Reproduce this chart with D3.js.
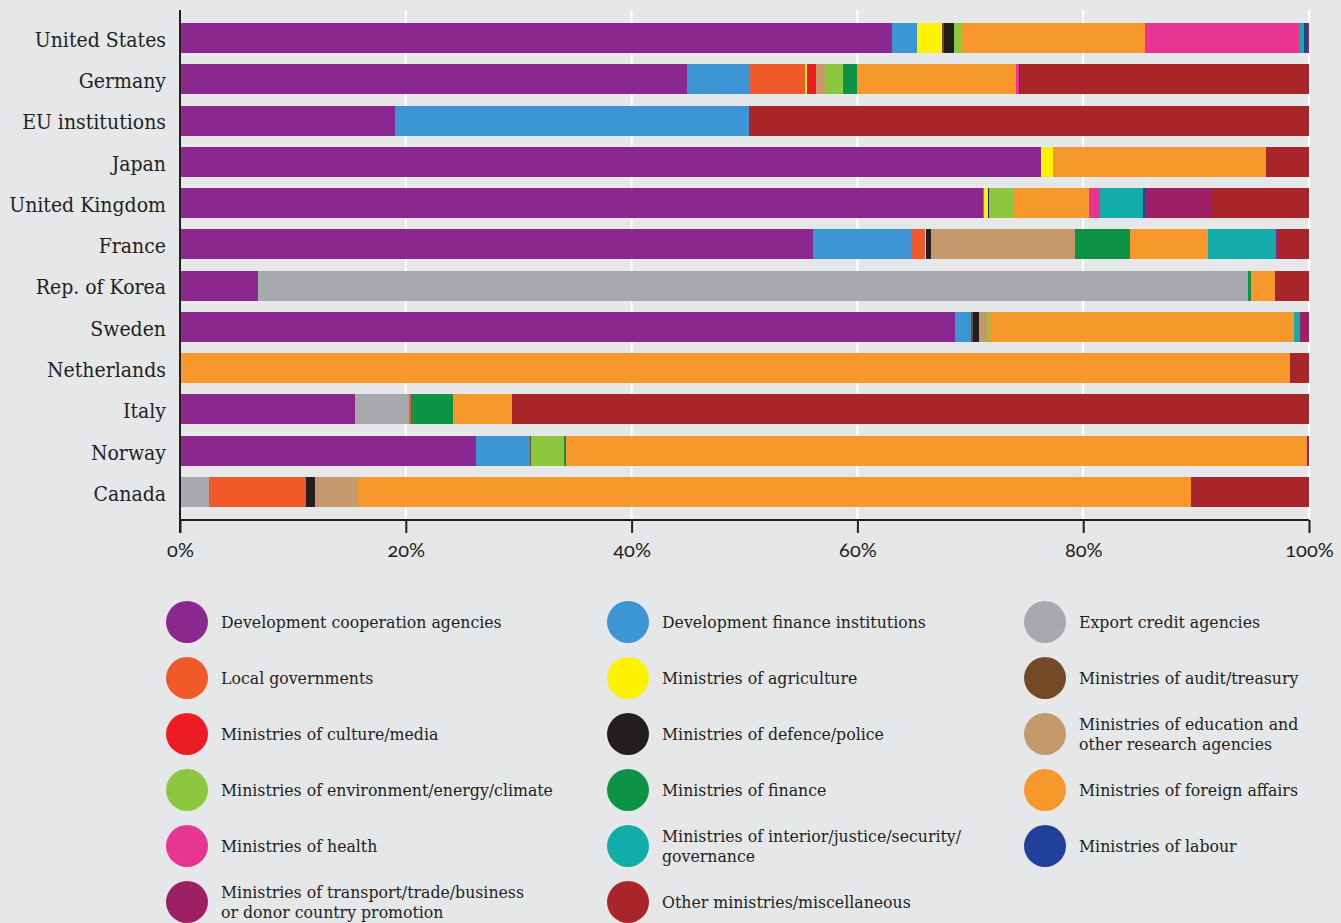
<!DOCTYPE html>
<html>
<head>
<meta charset="utf-8">
<script src="https://cdn.jsdelivr.net/npm/d3@7"></script>
<style>
  html, body { margin: 0; padding: 0; background: #e6e7e8; }
  svg { display: block; }
</style>
</head>
<body>
<script>
// ---- DATA ----
const countries = ["United States", "Germany", "EU institutions", "Japan", "United Kingdom", "France",
  "Rep. of Korea", "Sweden", "Netherlands", "Italy", "Norway", "Canada"];

const seriesNames = [
  "Development cooperation agencies", "Development finance institutions", "Export credit agencies",
  "Local governments", "Ministries of agriculture", "Ministries of audit/treasury",
  "Ministries of culture/media", "Ministries of defence/police", "Ministries of education and other research agencies",
  "Ministries of environment/energy/climate", "Ministries of finance", "Ministries of foreign affairs",
  "Ministries of health", "Ministries of interior/justice/security/ governance", "Ministries of labour",
  "Ministries of transport/trade/business or donor country promotion", "Other ministries/miscellaneous"
];

const seriesColors = ["#8a288f", "#3d95d4", "#a7a9ac", "#f05a2b", "#fff200", "#734a26", "#ed1c24", "#231f20",
  "#c49a6c", "#8dc63f", "#0c9346", "#f7982d", "#e83594", "#12aca9", "#21409a", "#9e1f63", "#a8252a"];

// shares (%) per country, in the order of seriesNames
const unitedStates  = [63.06, 2.21, 0, 0, 2.21, 0.18, 0, 0.89, 0, 0.62, 0, 16.3, 13.64, 0.44, 0.27, 0, 0.18];
const germany       = [44.9, 5.49, 0, 4.96, 0.18, 0, 0.8, 0, 0.8, 1.59, 1.24, 14.08, 0.27, 0, 0.09, 0, 25.6];
const euInstitutions= [19.0, 31.4, 0, 0, 0, 0, 0, 0, 0, 0, 0, 0, 0, 0, 0, 0, 49.6];
const japan         = [76.26, 0, 0, 0, 1.06, 0, 0, 0, 0, 0, 0, 18.87, 0, 0, 0, 0, 3.81];
const unitedKingdom = [71.1, 0, 0, 0.1, 0.33, 0, 0, 0.12, 0, 2.13, 0, 6.73, 0.97, 3.81, 0.18, 5.85, 8.68];
const france        = [56.07, 8.77, 0, 1.15, 0.1, 0, 0, 0.47, 12.75, 0, 4.87, 6.91, 0, 6.02, 0, 0.27, 2.62];
const korea         = [6.9, 0, 87.69, 0, 0, 0, 0, 0, 0, 0, 0.27, 2.13, 0, 0, 0, 0, 3.01];
const sweden        = [68.64, 1.42, 0, 0, 0, 0.18, 0, 0.53, 0.71, 0.27, 0, 26.93, 0, 0.53, 0, 0.8, 0];
const netherlands   = [0, 0, 0, 0, 0, 0, 0, 0, 0, 0, 0, 98.32, 0, 0, 0, 0, 1.68];
const italy         = [15.5, 0, 4.78, 0.18, 0, 0, 0, 0, 0, 0, 3.72, 5.23, 0, 0, 0, 0, 70.59];
const norway        = [26.22, 4.78, 0, 0, 0, 0.09, 0, 0, 0, 2.92, 0.18, 65.63, 0, 0, 0, 0.18, 0];
const canada        = [0, 0, 2.57, 8.59, 0, 0, 0, 0.8, 3.81, 0, 0, 73.78, 0, 0, 0, 0, 10.45];

const countryValues = [unitedStates, germany, euInstitutions, japan, unitedKingdom, france,
  korea, sweden, netherlands, italy, norway, canada];

const tickValues = [0, 20, 40, 60, 80, 100];

// ---- LAYOUT ----
const W = 1341, H = 923;
const x0 = 180, x1 = 1309;
const axisY = 520;
const textColor = "#231f20";
const serif = "'DejaVu Serif Condensed', 'DejaVu Serif', serif";

const svg = d3.select("body").append("svg").attr("width", W).attr("height", H);
svg.append("rect").attr("width", W).attr("height", H).attr("fill", "#e6e7e8");

const x = d3.scaleLinear().domain([0, 100]).range([x0, x1]);
const y = d3.scaleBand().domain(countries).range([2.4, 527.6]).paddingInner(0.273).paddingOuter(0.5);
const color = d3.scaleOrdinal().domain(seriesNames).range(seriesColors);

// gridlines
svg.append("g").selectAll("line").data(tickValues.filter(d => d > 0)).join("line")
  .attr("x1", d => x(d)).attr("x2", d => x(d))
  .attr("y1", 10).attr("y2", axisY)
  .attr("stroke", "#ffffff").attr("stroke-width", 2);

// stacked data
const rows = countries.map((c, i) => {
  const o = { country: c };
  seriesNames.forEach((s, j) => o[s] = countryValues[i][j]);
  return o;
});
const stacked = d3.stack().keys(seriesNames)(rows);

svg.append("g").selectAll("g").data(stacked).join("g")
  .attr("fill", d => color(d.key))
  .selectAll("rect").data(d => d.filter(p => p[1] - p[0] > 0)).join("rect")
  .attr("x", d => x(d[0]))
  .attr("width", d => x(d[1]) - x(d[0]))
  .attr("y", d => y(d.data.country))
  .attr("height", y.bandwidth())
  .attr("shape-rendering", "crispEdges");

// y axis line
svg.append("line").attr("x1", x0).attr("x2", x0).attr("y1", 10).attr("y2", axisY + 13)
  .attr("stroke", textColor).attr("stroke-width", 2);

// country labels
svg.append("g").selectAll("text").data(countries).join("text")
  .attr("x", 166)
  .attr("y", d => y(d) + y.bandwidth() / 2)
  .attr("dy", "0.42em")
  .attr("text-anchor", "end")
  .attr("font-family", serif)
  .attr("font-size", 21)
  .attr("fill", textColor)
  .text(d => d);

// x axis
const xAxis = d3.axisBottom(x).tickValues(tickValues).tickFormat(d => d + "%").tickSize(13).tickPadding(10);
const gx = svg.append("g").attr("transform", `translate(0,${axisY})`).call(xAxis);
gx.select(".domain").attr("stroke", textColor).attr("stroke-width", 2).attr("d", `M${x0},0H${x1}`);
gx.selectAll(".tick line").attr("stroke", textColor).attr("stroke-width", 2);
gx.selectAll(".tick text").attr("fill", textColor)
  .attr("font-family", "Lato, 'Open Sans', sans-serif").attr("font-size", 20)
  .style("font-feature-settings", "'onum'");

// legend
const legCols = [187, 628, 1045];
const legRow0 = 622, legStep = 56;
const leg = svg.append("g").selectAll("g").data(seriesNames).join("g")
  .attr("transform", (d, i) => `translate(${legCols[i % 3]},${legRow0 + Math.floor(i / 3) * legStep})`);
leg.append("circle").attr("r", 21).attr("fill", d => color(d));

const legendLines = {
  "Ministries of education and other research agencies": ["Ministries of education and", "other research agencies"],
  "Ministries of interior/justice/security/ governance": ["Ministries of interior/justice/security/", "governance"],
  "Ministries of transport/trade/business or donor country promotion": ["Ministries of transport/trade/business", "or donor country promotion"]
};
leg.each(function(d) {
  const lines = legendLines[d] || [d];
  const t = d3.select(this).append("text")
    .attr("x", 34)
    .attr("font-family", serif)
    .attr("font-size", 17.5)
    .attr("fill", textColor);
  lines.forEach((ln, k) => {
    t.append("tspan").attr("x", 34)
      .attr("y", (k - (lines.length - 1) / 2) * 20.5)
      .attr("dy", "0.35em")
      .text(ln);
  });
});
</script>
</body>
</html>
